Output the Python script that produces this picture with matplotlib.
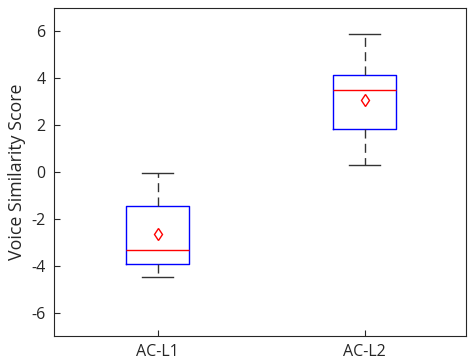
import matplotlib
matplotlib.use("Agg")
import matplotlib.pyplot as plt

categories = ["AC-L1", "AC-L2"]
q1 = [-3.91, 1.85]
med = [-3.31, 3.48]
q3 = [-1.44, 4.16]
whislo = [-4.48, 0.28]
whishi = [-0.06, 5.87]
means = [-2.63, 3.08]
yticks = [-6, -4, -2, 0, 2, 4, 6]

plt.rcParams['font.family'] = ['Open Sans', 'DejaVu Sans']

fig = plt.figure(figsize=(4.69, 3.64), dpi=100)
ax = fig.add_axes([54/469, 28/364, 412/469, 328/364])

stats = []
for i, c in enumerate(categories):
    stats.append(dict(label=c, q1=q1[i], med=med[i], q3=q3[i],
                      whislo=whislo[i], whishi=whishi[i], mean=means[i], fliers=[]))

ax.bxp(stats, positions=[1, 2], widths=0.3, showmeans=True, patch_artist=False,
       boxprops=dict(color='blue', linewidth=1.0),
       medianprops=dict(color='red', linewidth=1.0),
       whiskerprops=dict(color='#333333', linewidth=1.0, linestyle=(0, (6.5, 3.8))),
       capprops=dict(color='#333333', linewidth=1.0),
       meanprops=dict(marker='d', markerfacecolor='none', markeredgecolor='red',
                      markersize=6, markeredgewidth=1.0),
       capwidths=0.15)

ax.set_xlim(0.5, 2.49)
ax.set_ylim(-7, 7)
ax.set_yticks(yticks)
ax.set_yticklabels([str(t) for t in yticks])
ax.set_xticks([1, 2])
ax.set_xticklabels(categories)
ax.tick_params(direction='in', length=4, labelsize=11.5, width=0.8, color='#262626',
               labelcolor='#262626', top=False, right=False, pad=6)
ax.set_ylabel("Voice Similarity Score", fontsize=12.8, color='#262626', labelpad=4)
for s in ax.spines.values():
    s.set_color('#262626')
    s.set_linewidth(0.8)

fig.savefig("out.png", dpi=100)
